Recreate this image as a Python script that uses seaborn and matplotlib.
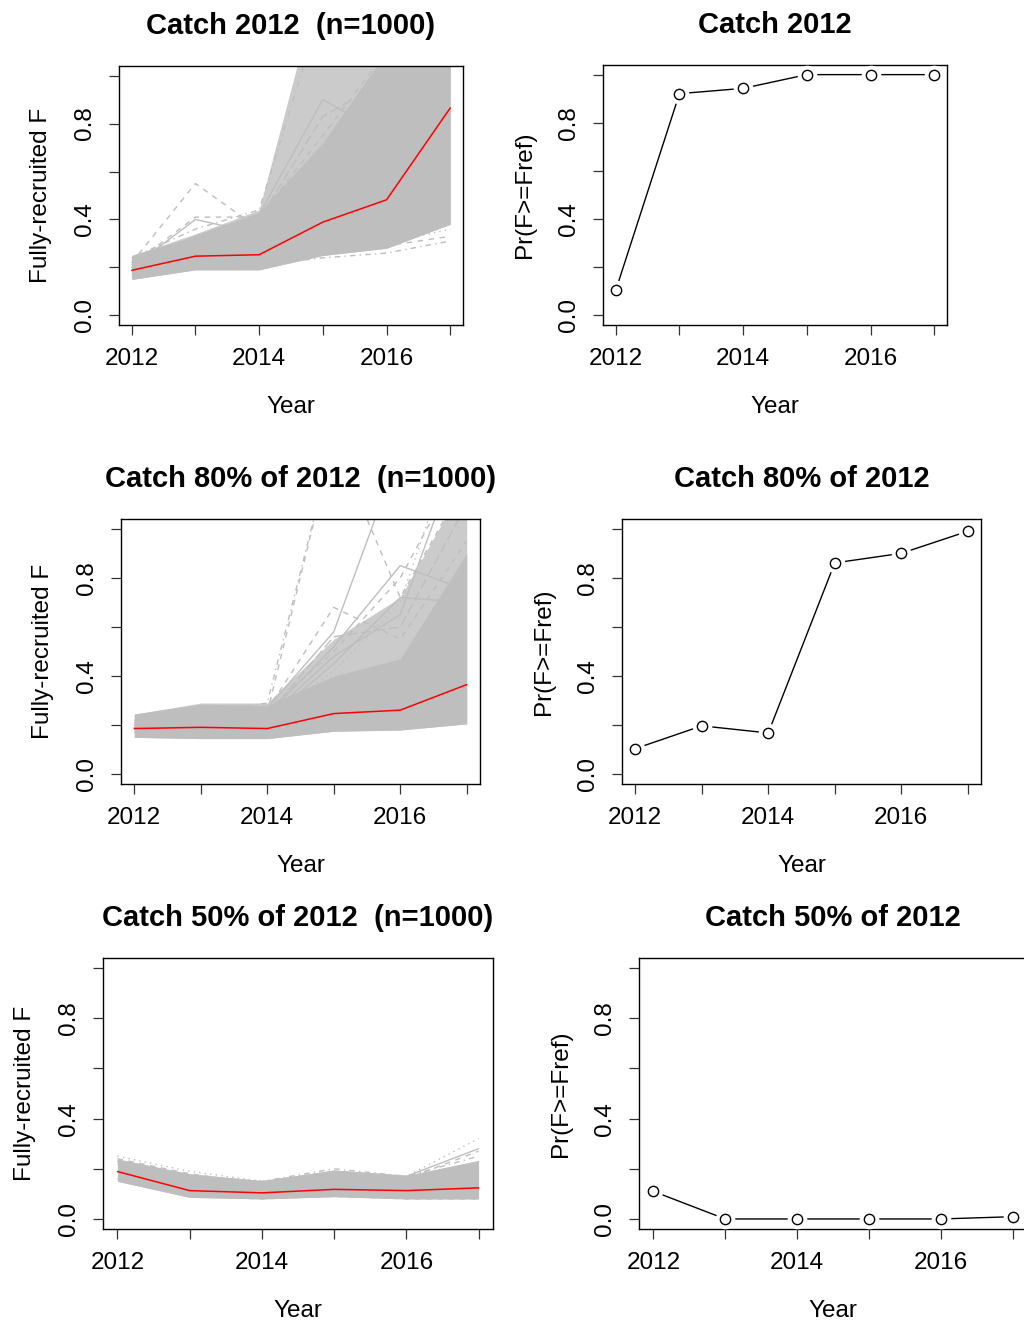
import numpy as np
import pandas as pd
import matplotlib
matplotlib.use('Agg')
import matplotlib.pyplot as plt
import seaborn as sns

# ---- dados ----
anos = [2012, 2013, 2014, 2015, 2016, 2017]

# Catch 2012
med_c100 = [0.188, 0.247, 0.253, 0.389, 0.482, 0.865]
inf_c100 = [0.150, 0.190, 0.190, 0.250, 0.280, 0.380]
sup_c100 = [0.250, 0.330, 0.430, 0.720, 1.100, 1.600]
ext_c100 = [0.250, 0.340, 0.440, 1.450, 1.600, 1.600]
traj_c100 = [
    [0.22, 0.55, 0.36, 0.60, 0.95, 1.30],
    [0.21, 0.41, 0.41, 0.75, 1.10, 1.40],
    [0.20, 0.40, 0.34, 0.55, 0.80, 1.20],
    [0.24, 0.36, 0.44, 1.30, 1.50, 1.60],
    [0.22, 0.33, 0.42, 0.90, 0.75, 1.20],
    [0.23, 0.32, 0.40, 0.83, 0.98, 1.30],
    [0.17, 0.21, 0.21, 0.24, 0.26, 0.31],
    [0.16, 0.20, 0.20, 0.26, 0.29, 0.33],
    [0.18, 0.22, 0.22, 0.27, 0.30, 0.36],
]
lty_c100 = ['2', '2', '1', '4', '1', '5', '4', '2', '3']

# Catch 80% of 2012
med_c80 = [0.186, 0.191, 0.186, 0.247, 0.261, 0.365]
inf_c80 = [0.150, 0.145, 0.145, 0.175, 0.180, 0.205]
sup_c80 = [0.245, 0.285, 0.280, 0.400, 0.470, 0.900]
ext_c80 = [0.245, 0.290, 0.290, 0.550, 0.720, 1.200]
traj_c80 = [
    [0.22, 0.25, 0.29, 1.36, 1.50, 1.50],
    [0.20, 0.22, 0.27, 0.58, 1.32, 1.50],
    [0.21, 0.23, 0.26, 0.68, 0.55, 0.95],
    [0.20, 0.22, 0.25, 1.36, 0.72, 1.20],
    [0.19, 0.21, 0.24, 0.52, 0.85, 0.75],
    [0.20, 0.23, 0.26, 0.50, 0.80, 1.30],
    [0.19, 0.20, 0.22, 0.45, 0.72, 0.70],
    [0.18, 0.20, 0.23, 0.42, 0.70, 1.50],
    [0.21, 0.22, 0.24, 0.56, 0.60, 1.10],
    [0.19, 0.21, 0.23, 0.48, 0.65, 1.40],
    [0.17, 0.17, 0.16, 0.20, 0.21, 0.22],
]
lty_c80 = ['4', '1', '2', '2', '1', '2', '1', '3', '5', '1', '4']

# Catch 50% of 2012
med_c50 = [0.189, 0.113, 0.104, 0.118, 0.113, 0.124]
inf_c50 = [0.150, 0.086, 0.080, 0.089, 0.080, 0.080]
sup_c50 = [0.239, 0.180, 0.153, 0.195, 0.173, 0.233]
ext_c50 = [0.239, 0.180, 0.153, 0.195, 0.173, 0.233]
traj_c50 = [
    [0.25, 0.19, 0.15, 0.17, 0.17, 0.32],
    [0.24, 0.18, 0.14, 0.18, 0.16, 0.27],
    [0.23, 0.17, 0.14, 0.19, 0.17, 0.28],
    [0.16, 0.09, 0.08, 0.09, 0.08, 0.08],
    [0.22, 0.16, 0.15, 0.20, 0.17, 0.25],
]
lty_c50 = ['3', '2', '1', '2', '4']

# Pr(F>=Fref)
prob_c100 = [0.104, 0.921, 0.943, 1.000, 1.000, 1.000]
prob_c80 = [0.104, 0.197, 0.168, 0.861, 0.900, 0.990]
prob_c50 = [0.110, 0.000, 0.000, 0.000, 0.000, 0.009]

titulos_esq = ['Catch 2012  (n=1000)', 'Catch 80% of 2012  (n=1000)', 'Catch 50% of 2012  (n=1000)']
titulos_dir = ['Catch 2012', 'Catch 80% of 2012', 'Catch 50% of 2012']

# tracos do R (lty)
tracos = {'1': '', '2': (4, 4), '3': (1, 3), '4': (1, 3, 4, 3), '5': (7, 3), '6': (2, 2, 6, 2)}

CINZA = '#BEBEBE'
W, H = 1024, 1326

sns.set_style('ticks')
plt.rcParams['font.family'] = ['Liberation Sans', 'DejaVu Sans']
plt.rcParams['font.size'] = 17.5
plt.rcParams['text.color'] = 'black'
plt.rcParams['axes.labelcolor'] = 'black'
plt.rcParams['xtick.color'] = 'black'
plt.rcParams['ytick.color'] = 'black'

fig = plt.figure(figsize=(W / 100, H / 100), dpi=100)

# caixas dos paineis em pixels (x0, x1, topo, base)
caixas_esq = [(119, 463, 66, 325), (121, 480, 519, 784), (103, 493, 958, 1229)]
caixas_dir = [(603, 947, 65, 325), (622, 981, 519, 784), (639, 1027, 958, 1229)]


def novo_eixo(c):
    x0, x1, y0, y1 = c
    return fig.add_axes([x0 / W, 1 - y1 / H, (x1 - x0) / W, (y1 - y0) / H])


def estilo_r(ax, titulo, ylab):
    ax.set_xlim(2011.8, 2017.2)
    ax.set_ylim(-0.04, 1.04)
    ax.set_xticks(anos, labels=['2012', '', '2014', '', '2016', ''])
    ax.set_yticks([0, 0.2, 0.4, 0.6, 0.8, 1.0], labels=['0.0', '', '0.4', '', '0.8', ''])
    for lab in ax.get_yticklabels():
        lab.set_rotation(90)
        lab.set_va('center')
    ax.tick_params(direction='out', length=7.5, width=0.9, color='#333333', labelcolor='black',
                   pad=9, labelsize=17.5)
    for s in ax.spines.values():
        s.set_visible(True)
        s.set_linewidth(1.0)
        s.set_color('black')
    ax.set_xlabel('Year', fontsize=17.5, labelpad=19, color='black')
    ax.set_ylabel(ylab, fontsize=17.5, labelpad=16, color='black')
    ax.set_title(titulo, fontsize=21, fontweight='bold', pad=23, color='black')


paineis = [
    (med_c100, inf_c100, sup_c100, ext_c100, traj_c100, lty_c100, prob_c100),
    (med_c80, inf_c80, sup_c80, ext_c80, traj_c80, lty_c80, prob_c80),
    (med_c50, inf_c50, sup_c50, ext_c50, traj_c50, lty_c50, prob_c50),
]

for i, (med, inf, sup, ext, traj, lty, prob) in enumerate(paineis):
    # --- esquerda: trajetorias de F ---
    ax = novo_eixo(caixas_esq[i])
    ax.fill_between(anos, inf, ext, color=CINZA, alpha=0.8, lw=0)
    ax.fill_between(anos, inf, sup, color=CINZA, lw=0)
    df_traj = pd.DataFrame({
        'ano': np.tile(anos, len(traj)),
        'F': np.concatenate(traj),
        'run': np.repeat(np.arange(len(traj)), len(anos)),
        'lty': np.repeat(lty, len(anos)),
    })
    sns.lineplot(data=df_traj, x='ano', y='F', units='run', estimator=None, style='lty',
                 dashes=tracos, color=CINZA, lw=1.0, legend=False, ax=ax)
    sns.lineplot(x=anos, y=med, color='red', lw=1.1, ax=ax)
    estilo_r(ax, titulos_esq[i], 'Fully-recruited F')

    # --- direita: probabilidade (type="b") ---
    ax2 = novo_eixo(caixas_dir[i])
    sns.lineplot(x=anos, y=prob, color='black', lw=1.0, ax=ax2)
    ax2.scatter(anos, prob, s=200, color='white', zorder=3, lw=0)
    sns.scatterplot(x=anos, y=prob, s=55, facecolor='white', edgecolor='black',
                    linewidth=1.0, zorder=4, ax=ax2)
    estilo_r(ax2, titulos_dir[i], 'Pr(F>=Fref)')

fig.savefig('out.png', dpi=100)
